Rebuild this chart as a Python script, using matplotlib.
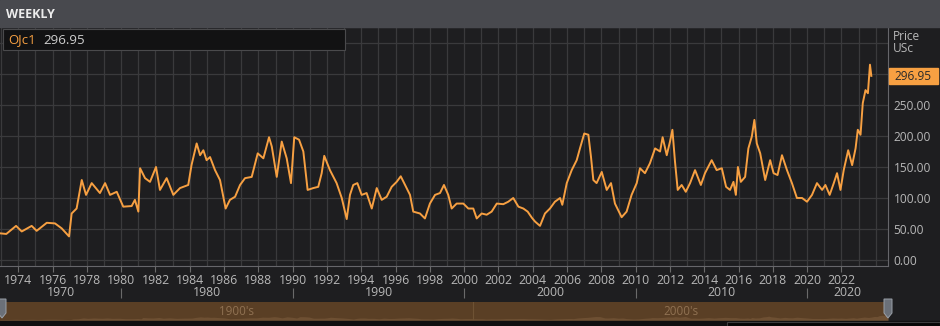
import matplotlib
matplotlib.use('Agg')
import matplotlib.pyplot as plt
from matplotlib.patches import Rectangle, Polygon
from matplotlib.transforms import blended_transform_factory

W, H = 940, 326

# weekly OJc1 price (US cents)
years = [1972.93, 1973.3, 1973.87, 1974.2, 1974.78, 1975.07, 1975.66, 1976.14, 1976.53, 1976.96,
         1977.11, 1977.4, 1977.7, 1977.95, 1978.28, 1978.76, 1979.06, 1979.35, 1979.74, 1980.12,
         1980.61, 1980.8, 1981.0, 1981.1, 1981.39, 1981.68, 1982.03, 1982.26, 1982.65, 1983.04,
         1983.43, 1983.91, 1984.1, 1984.4, 1984.6, 1984.79, 1984.98, 1985.18, 1985.47, 1985.76,
         1986.09, 1986.34, 1986.64, 1986.93, 1987.22, 1987.61, 1987.96, 1988.29, 1988.62, 1988.78,
         1989.07, 1989.36, 1989.65, 1989.9, 1990.09, 1990.37, 1990.62, 1990.87, 1991.2, 1991.49,
         1991.69, 1991.84, 1992.17, 1992.56, 1992.86, 1993.15, 1993.34, 1993.53, 1993.77, 1994.02,
         1994.31, 1994.61, 1994.9, 1995.19, 1995.48, 1995.77, 1996.06, 1996.3, 1996.55, 1996.84,
         1997.03, 1997.42, 1997.71, 1998.0, 1998.3, 1998.59, 1998.82, 1999.07, 1999.27, 1999.56,
         1999.95, 2000.24, 2000.53, 2000.73, 2001.02, 2001.31, 2001.6, 2001.9, 2002.28, 2002.57,
         2002.86, 2003.16, 2003.45, 2003.7, 2003.95, 2004.13, 2004.42, 2004.71, 2005.0, 2005.29,
         2005.59, 2005.72, 2005.98, 2006.27, 2006.56, 2006.75, 2007.0, 2007.24, 2007.39, 2007.53,
         2007.72, 2008.02, 2008.31, 2008.56, 2008.79, 2009.18, 2009.47, 2009.76, 2010.06, 2010.25,
         2010.54, 2010.83, 2011.13, 2011.42, 2011.57, 2011.81, 2012.0, 2012.14, 2012.29, 2012.45,
         2012.68, 2012.92, 2013.17, 2013.46, 2013.8, 2014.04, 2014.43, 2014.72, 2015.02, 2015.27,
         2015.5, 2015.7, 2015.84, 2015.96, 2016.13, 2016.38, 2016.57, 2016.77, 2016.92, 2017.06,
         2017.26, 2017.55, 2017.84, 2018.04, 2018.27, 2018.53, 2018.82, 2019.11, 2019.4, 2019.7,
         2019.99, 2020.28, 2020.57, 2020.87, 2021.06, 2021.31, 2021.55, 2021.74, 2021.94, 2022.13,
         2022.39, 2022.62, 2022.82, 2022.95, 2023.11, 2023.24, 2023.4, 2023.54, 2023.66, 2023.74]
prices = [43, 42, 55, 46, 55, 47, 60, 59, 51, 38,
          75, 83, 129, 105, 124, 108, 124, 105, 110, 86,
          87, 97, 78, 148, 132, 126, 150, 113, 132, 105,
          116, 121, 153, 188, 169, 177, 161, 166, 145, 129,
          83, 97, 102, 121, 132, 134, 172, 164, 198, 183,
          134, 191, 164, 124, 198, 194, 175, 113, 116, 118,
          140, 168, 145, 124, 100, 66, 105, 121, 124, 105,
          108, 83, 116, 97, 102, 118, 126, 135, 121, 105,
          78, 75, 67, 91, 105, 108, 121, 105, 83, 91,
          91, 83, 83, 67, 75, 73, 78, 91, 90, 94,
          100, 86, 83, 78, 68, 62, 55, 75, 83, 94,
          100, 89, 124, 145, 161, 180, 204, 202, 167, 129,
          124, 142, 113, 124, 91, 69, 78, 105, 124, 148,
          140, 156, 180, 175, 198, 169, 191, 210, 159, 113,
          121, 110, 124, 145, 121, 140, 161, 145, 148, 118,
          113, 126, 105, 150, 126, 134, 180, 199, 226, 188,
          172, 129, 161, 140, 137, 169, 145, 124, 100, 100,
          94, 105, 124, 113, 121, 105, 124, 140, 113, 145,
          177, 153, 180, 210, 202, 253, 274, 269, 315, 296.95]
last_price = 296.95
ric = 'OJc1'

year_ticks = list(range(1974, 2023, 2))
decades = [1970, 1980, 1990, 2000, 2010, 2020]
price_ticks = [0, 50, 100, 150, 200, 250, 300, 350]
eras = ["1900's", "2000's"]

orange = '#f7a042'
bg = '#1e1e20'
grid_c = '#3a3a3c'
text_c = '#b8b8b8'

plt.rcParams['font.family'] = ['Open Sans', 'DejaVu Sans']


def box(x0, y0, x1, y1):
    # pixel box (top-left origin) -> figure fraction rect
    return [x0 / W, 1 - y1 / H, (x1 - x0) / W, (y1 - y0) / H]


def fy(y):
    return 1 - y / H


fig = plt.figure(figsize=(W / 100, H / 100), dpi=100, facecolor=bg)

# title bar
fig.patches.append(Rectangle((0, fy(27)), 1, 27 / H, transform=fig.transFigure,
                             color='#48494e', zorder=0))
fig.text(6 / W, fy(14), 'WEEKLY', color='#ececec', fontsize=9, fontweight='bold', va='center')

# main chart
ax = fig.add_axes(box(0, 27, 888, 266))
ax.set_facecolor(bg)
ax.plot(years, prices, color=orange, lw=1.4, solid_joinstyle='round', zorder=3)

x_left = 1974 - 18.3 / 17.15
x_right = 1974 + (888 - 18.3) / 17.15
ax.set_xlim(x_left, x_right)
ax.set_ylim(-9.7, 375.8)

ax.set_xticks(range(1973, 2025), minor=True)
ax.set_xticks(year_ticks)
ax.set_xticklabels([str(y) for y in year_ticks])
ax.tick_params(axis='x', which='major', length=4, width=0.8, color='#6a6a6a',
               labelcolor=text_c, labelsize=8.8, pad=2)
ax.tick_params(axis='x', which='minor', length=0)
ax.grid(True, which='both', axis='x', color=grid_c, lw=0.9)

ax.yaxis.tick_right()
ax.set_yticks(price_ticks)
ax.set_yticklabels(['%.2f' % p if p <= 250 else '' for p in price_ticks])
ax.tick_params(axis='y', length=0, labelcolor=text_c, labelsize=8.6, pad=4)
ax.grid(True, axis='y', color=grid_c, lw=0.9)
ax.set_axisbelow(True)

for side in ['left']:
    ax.spines[side].set_visible(False)
ax.spines['top'].set_color('#555559')
ax.spines['bottom'].set_color('#66666a')
ax.spines['right'].set_color('#66666a')

# decade row under the year labels
tr = blended_transform_factory(ax.transData, fig.transFigure)
edges = [x_left] + decades[1:] + [x_right]
for i, d in enumerate(decades):
    cx = (max(edges[i], d) + edges[i + 1]) / 2
    ax.text(cx, fy(293), str(d), transform=tr, ha='center', va='center',
            color=text_c, fontsize=8.8, clip_on=False)
ax.vlines(decades[1:], fy(298), fy(288), transform=tr, colors='#6a6a6a', lw=0.8,
          clip_on=False)

# right-hand axis header and last-price tag
fig.text(893 / W, fy(36), 'Price', color=text_c, fontsize=8.6, va='center')
fig.text(893 / W, fy(48), 'USc', color=text_c, fontsize=8.6, va='center')
fig.patches.append(Rectangle((889 / W, fy(84)), 49 / W, 16 / H, transform=fig.transFigure,
                             color=orange, zorder=2))
fig.text(913 / W, fy(76), '%.2f' % last_price, color='#2a2a2a', fontsize=8.6,
         ha='center', va='center', zorder=3)

# instrument legend box
fig.patches.append(Rectangle((3 / W, fy(50)), 342 / W, 21 / H, transform=fig.transFigure,
                             facecolor='#121213', edgecolor='#4a4a4c', lw=0.8, zorder=4))
fig.text(8 / W, fy(40), ric, color=orange, fontsize=9.5, va='center', zorder=5)
fig.text(43 / W, fy(40), '%.2f' % last_price, color='#cfcfcf', fontsize=9.5, va='center',
         zorder=5)

# navigator strip
nav = fig.add_axes(box(0, 302, 888, 321))
nav.set_facecolor('#5a3f25')
nav.fill_between(years, prices, -40, color='#6e5033', lw=0)
nav.set_xlim(years[0], years[-1])
nav.set_ylim(-40, 1000)
nav.axvline(2000, color='#6e5234', lw=0.8)
nav.set_xticks([])
nav.set_yticks([])
for s in nav.spines.values():
    s.set_visible(False)
era_mid = [(years[0] + 2000) / 2, (2000 + years[-1]) / 2]
for cx, lab in zip(era_mid, eras):
    nav.text(cx, 0.5, lab, transform=blended_transform_factory(nav.transData, nav.transAxes),
             ha='center', va='center', color='#8f7152', fontsize=8.4)

# navigator handles
def handle(x):
    pts = [(x - 4, 299), (x + 4, 299), (x + 4, 313), (x, 318), (x - 4, 313)]
    return Polygon([(px / W, fy(py)) for px, py in pts], closed=True,
                   transform=fig.transFigure, facecolor='#6b7078',
                   edgecolor='#9aa0a8', lw=0.7, zorder=6)


fig.patches.append(handle(2))
fig.patches.append(handle(888))

# bottom strip
fig.patches.append(Rectangle((0, 0), 1, 5 / H, transform=fig.transFigure,
                             color='#101011', zorder=1))
fig.patches.append(Rectangle((727 / W, 0), 213 / W, 4.5 / H, transform=fig.transFigure,
                             facecolor='#050505', edgecolor='#3c3c3e', lw=0.8, zorder=2))

fig.savefig('out.png', dpi=100, facecolor=bg)
